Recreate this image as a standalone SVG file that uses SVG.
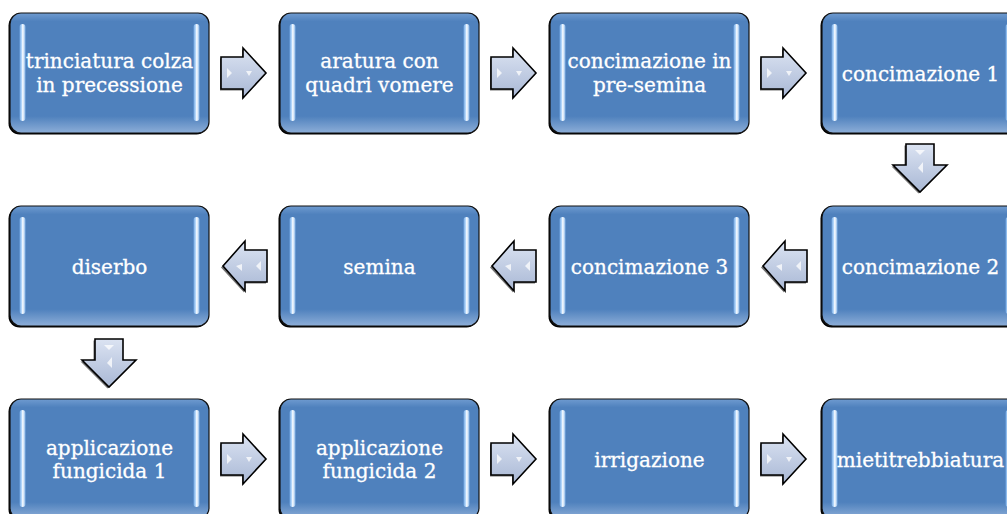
<svg xmlns="http://www.w3.org/2000/svg" xmlns:xlink="http://www.w3.org/1999/xlink" width="1007" height="514" viewBox="0 0 1007 514">
<style>
.shadow{fill:#000;}
.box{fill:url(#gBox);stroke:#111;stroke-width:1.2;}
.bar{fill:url(#gBar);}
.lbl{font-family:"DejaVu Serif","Liberation Serif",serif;font-size:20px;fill:#fff;text-anchor:middle;stroke:#fff;stroke-width:0.3;}
.arr{fill:url(#gArr);stroke:#000;stroke-width:1.6;stroke-linejoin:miter;}
.arrSh{fill:#000;opacity:0.55;}
.hl{fill:#fff;opacity:0.75;}
</style>
<defs>
<linearGradient id="gBox" x1="0" y1="0" x2="0" y2="1">
<stop offset="0" stop-color="#6f9bd0"/>
<stop offset="0.07" stop-color="#4f81bd"/>
<stop offset="0.86" stop-color="#4f81bd"/>
<stop offset="1" stop-color="#8daed8"/>
</linearGradient>
<linearGradient id="gBar" x1="0" y1="0" x2="1" y2="0">
<stop offset="0" stop-color="#6ea3df"/>
<stop offset="0.35" stop-color="#b5d8fb"/>
<stop offset="0.55" stop-color="#ffffff"/>
<stop offset="1" stop-color="#7fb0e6"/>
</linearGradient>
<linearGradient id="gArr" x1="0" y1="0" x2="0" y2="1">
<stop offset="0" stop-color="#dbe3f2"/>
<stop offset="1" stop-color="#a9b8d5"/>
</linearGradient>
<g id="boxShape">
<rect class="shadow" x="-1.5" y="1.5" width="199" height="120" rx="11"/>
<rect class="box" x="0" y="0" width="199" height="120" rx="11"/>
<rect class="bar" x="9.5" y="11" width="6" height="97" rx="3"/>
<rect class="bar" x="183.5" y="11" width="6" height="97" rx="3"/>
</g>
<g id="arrR">
<path class="arrSh" d="M-23,-14.5 H-1 V-23.5 L22,1.5 L-1,26.5 V17.5 H-23 Z"/>
<path class="arr" d="M-22,-16 H0 V-25 L23,0 L0,25 V16 H-22 Z"/>
<path class="hl" d="M-16,-5 L-11,0 L-16,5 Z"/>
<path class="hl" d="M3,-2 L9,-2 L6,3 Z"/>
</g>
<g id="arrL">
<path class="arrSh" d="M21,-14.5 H-1 V-23.5 L-24,1.5 L-1,26.5 V17.5 H21 Z"/>
<path class="arr" d="M22,-16 H0 V-25 L-22,0 L0,25 V16 H22 Z"/>
<path class="hl" d="M16,-5 L11,0 L16,5 Z"/>
<path class="hl" d="M-3,-2 L-9,0 L-3,5 Z"/>
</g>
<g id="arrD">
<path class="arrSh" d="M-15.5,-19.5 H12.5 V1.5 H25.5 L-1.5,28.5 L-28.5,1.5 H-15.5 Z"/>
<path class="arr" d="M-14,-21 H14 V0 H27 L0,27 L-27,0 H-14 Z"/>
<path class="hl" d="M-5,-15 L5,-15 L0,-10 Z"/>
<path class="hl" d="M-2,3 L3,-3 L3,8 Z"/>
</g>
</defs>
<rect width="1007" height="514" fill="#fff"/>

<g id="connectors">
<use xlink:href="#arrR" href="#arrR" x="243" y="73"/>
<use xlink:href="#arrR" href="#arrR" x="513" y="73"/>
<use xlink:href="#arrR" href="#arrR" x="783" y="73"/>
<use xlink:href="#arrD" href="#arrD" x="920" y="165"/>
<use xlink:href="#arrL" href="#arrL" x="785" y="266"/>
<use xlink:href="#arrL" href="#arrL" x="514" y="266"/>
<use xlink:href="#arrL" href="#arrL" x="245" y="266"/>
<use xlink:href="#arrD" href="#arrD" x="109" y="360"/>
<use xlink:href="#arrR" href="#arrR" x="243" y="459"/>
<use xlink:href="#arrR" href="#arrR" x="513" y="459"/>
<use xlink:href="#arrR" href="#arrR" x="783" y="459"/>
</g>

<g id="n1"><use xlink:href="#boxShape" href="#boxShape" x="10" y="13"/>
<text class="lbl" x="109.5" y="68">trinciatura colza</text><text class="lbl" x="109.5" y="92">in precessione</text></g>
<g id="n2"><use xlink:href="#boxShape" href="#boxShape" x="280" y="13"/>
<text class="lbl" x="379.5" y="68">aratura con</text><text class="lbl" x="379.5" y="92">quadri vomere</text></g>
<g id="n3"><use xlink:href="#boxShape" href="#boxShape" x="550" y="13"/>
<text class="lbl" x="649.5" y="68">concimazione in</text><text class="lbl" x="649.5" y="92">pre-semina</text></g>
<g id="n4"><use xlink:href="#boxShape" href="#boxShape" x="822" y="13"/>
<text class="lbl" x="920.5" y="81">concimazione 1</text></g>

<g id="n5"><use xlink:href="#boxShape" href="#boxShape" x="822" y="206"/>
<text class="lbl" x="920.5" y="274">concimazione 2</text></g>
<g id="n6"><use xlink:href="#boxShape" href="#boxShape" x="550" y="206"/>
<text class="lbl" x="649.5" y="274">concimazione 3</text></g>
<g id="n7"><use xlink:href="#boxShape" href="#boxShape" x="280" y="206"/>
<text class="lbl" x="379.5" y="274">semina</text></g>
<g id="n8"><use xlink:href="#boxShape" href="#boxShape" x="10" y="206"/>
<text class="lbl" x="109.5" y="274">diserbo</text></g>

<g id="n9"><use xlink:href="#boxShape" href="#boxShape" x="10" y="399"/>
<text class="lbl" x="109.5" y="455">applicazione</text><text class="lbl" x="109.5" y="478">fungicida 1</text></g>
<g id="n10"><use xlink:href="#boxShape" href="#boxShape" x="280" y="399"/>
<text class="lbl" x="379.5" y="455">applicazione</text><text class="lbl" x="379.5" y="478">fungicida 2</text></g>
<g id="n11"><use xlink:href="#boxShape" href="#boxShape" x="550" y="399"/>
<text class="lbl" x="649.5" y="467">irrigazione</text></g>
<g id="n12"><use xlink:href="#boxShape" href="#boxShape" x="822" y="399"/>
<text class="lbl" x="920.5" y="467">mietitrebbiatura</text></g>
</svg>
